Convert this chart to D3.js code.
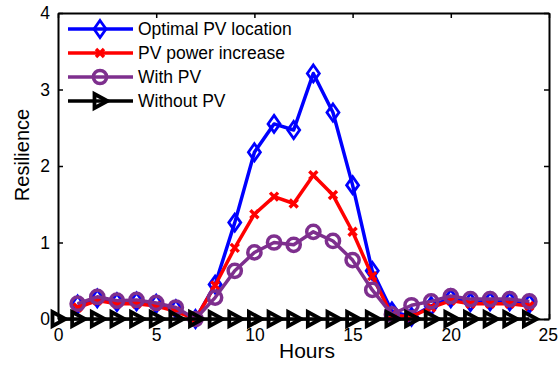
<!DOCTYPE html>
<html>
<head>
<meta charset="utf-8">
<script src="https://cdn.jsdelivr.net/npm/d3@7"></script>
<style>
  html, body { margin: 0; padding: 0; background: #fff; }
  svg { display: block; font-family: "Liberation Sans", Arial, sans-serif; }
</style>
</head>
<body>
<svg id="chart" width="558" height="365"></svg>
<script>
// Hourly resilience for each scenario
const hoursPV = d3.range(1, 25);
const hoursAll = d3.range(0, 25);
const optimalPV = [0.19, 0.27, 0.22, 0.23, 0.20, 0.13, 0.00, 0.45, 1.26, 2.18, 2.55, 2.47, 3.21, 2.70, 1.75, 0.63, 0.10, 0.03, 0.17, 0.27, 0.22, 0.23, 0.23, 0.20];
const powerIncrease = [0.15, 0.24, 0.20, 0.20, 0.17, 0.10, 0.00, 0.44, 0.93, 1.37, 1.60, 1.51, 1.88, 1.62, 1.14, 0.56, 0.05, 0.03, 0.15, 0.24, 0.20, 0.20, 0.20, 0.17];
const withPV = [0.20, 0.29, 0.24, 0.25, 0.21, 0.15, 0.00, 0.28, 0.63, 0.87, 1.00, 0.97, 1.14, 1.02, 0.77, 0.38, 0.06, 0.18, 0.23, 0.30, 0.26, 0.26, 0.26, 0.23];
const withoutPV = [0, 0, 0, 0, 0, 0, 0, 0, 0, 0, 0, 0, 0, 0, 0, 0, 0, 0, 0, 0, 0, 0, 0, 0, 0];
const xTicks = [0, 5, 10, 15, 20, 25];
const yTicks = [0, 1, 2, 3, 4];
const seriesNames = ["Optimal PV location", "PV power increase", "With PV", "Without PV"];

const svg = d3.select("#chart");
const m = { left: 58, right: 549, top: 13, bottom: 319 };
const x = d3.scaleLinear().domain([0, 25]).range([m.left, m.right]);
const y = d3.scaleLinear().domain([0, 4]).range([m.bottom, m.top]);

// Axes with inward ticks on all four sides
const gx = svg.append("g").attr("transform", `translate(0,${m.bottom})`)
  .call(d3.axisBottom(x).tickValues(xTicks).tickFormat(d3.format("d")).tickSizeInner(-5).tickSizeOuter(0).tickPadding(10));
const gy = svg.append("g").attr("transform", `translate(${m.left},0)`)
  .call(d3.axisLeft(y).tickValues(yTicks).tickFormat(d3.format("d")).tickSizeInner(-5).tickSizeOuter(0).tickPadding(8));
const gxt = svg.append("g").attr("transform", `translate(0,${m.top})`)
  .call(d3.axisTop(x).tickValues(xTicks).tickFormat("").tickSizeInner(-5).tickSizeOuter(0));
const gyr = svg.append("g").attr("transform", `translate(${m.right},0)`)
  .call(d3.axisRight(y).tickValues(yTicks).tickFormat("").tickSizeInner(-5).tickSizeOuter(0));
[gx, gy, gxt, gyr].forEach(g => {
  g.select(".domain").attr("stroke", "#000").attr("stroke-width", 2);
  g.selectAll(".tick line").attr("stroke", "#000").attr("stroke-width", 1.5);
  g.selectAll(".tick text").attr("fill", "#000").attr("font-size", 17.5)
    .attr("font-family", "'Liberation Sans', Arial, sans-serif");
});
// keep the last hour label inside the canvas
gx.selectAll(".tick text").filter(d => d === 25)
  .attr("text-anchor", "end").attr("x", 8.5);

// Axis titles
svg.append("text").attr("x", 307).attr("y", 358).attr("text-anchor", "middle")
  .attr("font-size", 21).text("Hours");
svg.append("text").attr("transform", "translate(29,155) rotate(-90)")
  .attr("text-anchor", "middle").attr("font-size", 20).text("Resilience");

// Marker shapes
function diamond(g, cx, cy, color) {
  g.append("path").attr("d", `M${cx},${cy - 8.5}L${cx + 6},${cy}L${cx},${cy + 8.5}L${cx - 6},${cy}Z`)
    .attr("fill", "none").attr("stroke", color).attr("stroke-width", 2.8);
}
function cross(g, cx, cy, color) {
  const s = 4;
  g.append("path").attr("d", `M${cx - s},${cy - s}L${cx + s},${cy + s}M${cx - s},${cy + s}L${cx + s},${cy - s}`)
    .attr("stroke", color).attr("stroke-width", 3.4).attr("fill", "none");
}
function circle(g, cx, cy, color) {
  g.append("circle").attr("cx", cx).attr("cy", cy).attr("r", 6.6)
    .attr("fill", "none").attr("stroke", color).attr("stroke-width", 3.5);
}
function triangle(g, cx, cy, color) {
  g.append("path").attr("d", `M${cx - 5.5},${cy - 7}L${cx + 7.5},${cy}L${cx - 5.5},${cy + 7}Z`)
    .attr("fill", "none").attr("stroke", color).attr("stroke-width", 3.8).attr("stroke-linejoin", "miter");
}

const series = [
  { name: seriesNames[0], xs: hoursPV, ys: optimalPV, color: "#0000FF", marker: diamond },
  { name: seriesNames[1], xs: hoursPV, ys: powerIncrease, color: "#FF0000", marker: cross },
  { name: seriesNames[2], xs: hoursPV, ys: withPV, color: "#7E2F8E", marker: circle },
  { name: seriesNames[3], xs: hoursAll, ys: withoutPV, color: "#000000", marker: triangle }
];

const line = d3.line().x(d => x(d[0])).y(d => y(d[1]));
series.forEach(s => {
  const pts = s.xs.map((h, i) => [h, s.ys[i]]);
  const g = svg.append("g");
  g.append("path").datum(pts).attr("d", line)
    .attr("fill", "none").attr("stroke", s.color).attr("stroke-width", 3.5).attr("stroke-linejoin", "round");
  pts.forEach(p => s.marker(g, x(p[0]), y(p[1]), s.color));
});

// Legend
const lg = svg.append("g");
series.forEach((s, i) => {
  const ly = 29 + i * 24;
  lg.append("line").attr("x1", 68).attr("x2", 133).attr("y1", ly).attr("y2", ly)
    .attr("stroke", s.color).attr("stroke-width", 3.5);
  s.marker(lg, 100, ly, s.color);
  lg.append("text").attr("x", 138).attr("y", ly).attr("dy", "0.36em")
    .attr("font-size", 17.5).text(s.name);
});
</script>
</body>
</html>
